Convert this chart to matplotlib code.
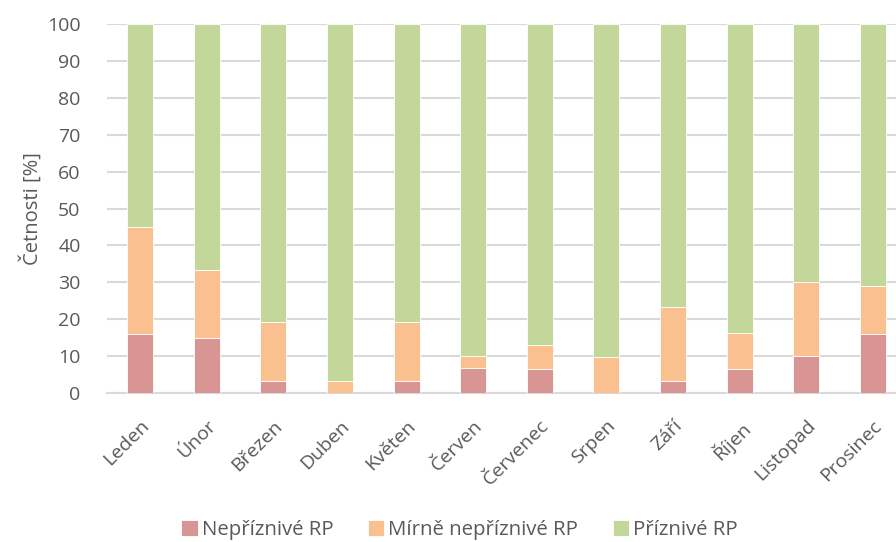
import matplotlib
matplotlib.use("Agg")
import matplotlib.pyplot as plt
import numpy as np

months = ["Leden", "Únor", "Březen", "Duben", "Květen", "Červen",
          "Červenec", "Srpen", "Září", "Říjen", "Listopad", "Prosinec"]
nepriznive = [16.1, 14.8, 3.2, 0.0, 3.2, 6.7, 6.5, 0.0, 3.3, 6.5, 10.0, 16.1]
mirne = [29.0, 18.5, 16.1, 3.3, 16.1, 3.3, 6.5, 9.7, 20.0, 9.7, 20.0, 12.9]
priznive = [54.9, 66.7, 80.7, 96.7, 80.7, 90.0, 87.0, 90.3, 76.7, 83.8, 70.0, 71.0]
series_names = ["Nepříznivé RP", "Mírně nepříznivé RP", "Příznivé RP"]
yticks = list(range(0, 101, 10))

COLORS = ["#d99594", "#fac090", "#c4d79b"]
TEXT = "#595959"
GRID = "#d9d9d9"

plt.rcParams["font.family"] = ["Open Sans", "DejaVu Sans"]

fig = plt.figure(figsize=(8.96, 5.42), dpi=100)
ax = fig.add_axes([107 / 896, 149 / 542, 799 / 896, 369 / 542])

x = np.arange(len(months))
bottom = np.zeros(len(months))
for vals, name, col in zip([nepriznive, mirne, priznive], series_names, COLORS):
    ax.bar(x, vals, width=0.39, bottom=bottom, color=col, edgecolor="#ffffff",
           linewidth=0.6, label=name, zorder=3)
    bottom += np.array(vals)

ax.set_xlim(-0.5, len(months) - 0.5)
ax.set_ylim(0, 100)
ax.set_yticks(yticks)
ax.yaxis.grid(True, color=GRID, linewidth=1.5, zorder=0)
ax.tick_params(axis="y", length=0, pad=19, labelsize=14, labelcolor=TEXT)
ax.tick_params(axis="x", length=0, pad=17, labelsize=14, labelcolor=TEXT)
ax.set_xticks(x)
ax.set_xticklabels(months, rotation=45, ha="right", rotation_mode="anchor")

for side in ["top", "right", "left"]:
    ax.spines[side].set_visible(False)
ax.spines["bottom"].set_color(GRID)
ax.spines["bottom"].set_linewidth(1.5)

ax.set_ylabel("Četnosti [%]", fontsize=14.5, color=TEXT, labelpad=3)

fig.legend(loc="lower center", bbox_to_anchor=(0.513, -0.03), ncol=3, frameon=False,
           fontsize=14.7, labelcolor=TEXT, handlelength=0.8, handleheight=0.8,
           handletextpad=0.2, columnspacing=1.7)

fig.savefig("out.png", dpi=100)
